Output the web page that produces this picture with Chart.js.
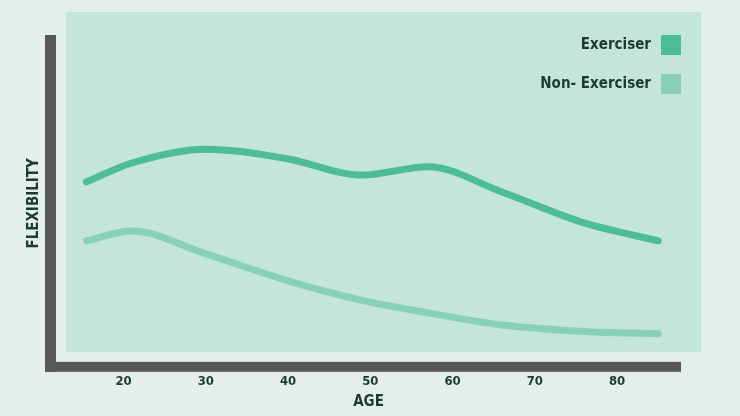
<!DOCTYPE html>
<html>
<head>
<meta charset="utf-8">
<script src="https://cdn.jsdelivr.net/npm/chart.js@4.4.1/dist/chart.umd.min.js"></script>
<style>
  html, body { margin: 0; padding: 0; background: #e2efea; }
  canvas { display: block; }
</style>
</head>
<body>
<canvas id="flexChart" width="740" height="416"></canvas>
<script>
// Values (flexibility on a 0-100 scale)
const ages = [15.5, 21, 30, 40, 49, 57, 66, 76, 85];
const exerciser = [56.4, 62.0, 66.1, 63.2, 58.4, 60.9, 53.4, 44.2, 38.9];
const nonExerciser = [38.9, 41.8, 35.0, 27.0, 21.2, 17.5, 13.9, 12.0, 11.3];
const ageTicks = [20, 30, 40, 50, 60, 70, 80];
const seriesNames = ["Exerciser", "Non- Exerciser"];
const seriesColors = ["#4dbd96", "#88d0b7"];

const FONT = "'DejaVu Sans Condensed', 'DejaVu Sans', sans-serif";
const TEXT = "#1e3b30";

const toPoints = (vals) => vals.map((v, i) => ({ x: ages[i], y: v }));

// Panel, axis bars and legend
const decor = {
  id: "decor",
  beforeDraw(chart) {
    const { ctx, chartArea: a } = chart;
    ctx.save();
    ctx.fillStyle = "#e2efea";
    ctx.fillRect(0, 0, chart.width, chart.height);
    ctx.fillStyle = "#c4e5d9";
    ctx.fillRect(a.left + 10, a.top - 23, a.right - a.left + 10, a.bottom - a.top + 3);
    ctx.fillStyle = "#575757";
    ctx.fillRect(a.left - 11, a.top, 11, a.bottom - a.top);
    ctx.fillRect(a.left - 11, a.bottom - 10, a.right - a.left + 11, 10);
    ctx.restore();
  },
  afterDatasetsDraw(chart) {
    const { ctx, chartArea: a } = chart;
    ctx.save();
    ctx.font = "bold 15px " + FONT;
    ctx.textAlign = "right";
    ctx.textBaseline = "middle";
    chart.data.datasets.forEach((ds, i) => {
      const top = a.top + i * 39;
      ctx.fillStyle = ds.borderColor;
      ctx.fillRect(a.right - 20, top, 20, 20);
      ctx.fillStyle = TEXT;
      ctx.fillText(ds.label, a.right - 30, top + 10);
    });
    ctx.restore();
  }
};

new Chart(document.getElementById("flexChart"), {
  type: "line",
  data: {
    datasets: [
      {
        label: seriesNames[0],
        data: toPoints(exerciser),
        borderColor: seriesColors[0],
        borderWidth: 7,
        borderCapStyle: "round",
        cubicInterpolationMode: "monotone",
        pointRadius: 0,
        clip: false,
      },
      {
        label: seriesNames[1],
        data: toPoints(nonExerciser),
        borderColor: seriesColors[1],
        borderWidth: 7,
        borderCapStyle: "round",
        cubicInterpolationMode: "monotone",
        pointRadius: 0,
        clip: false,
      },
    ],
  },
  options: {
    responsive: false,
    animation: false,
    layout: { padding: { left: 0, right: 59, top: 35, bottom: 0 } },
    plugins: {
      legend: { display: false },
      tooltip: { enabled: false },
    },
    scales: {
      x: {
        type: "linear",
        min: 11.78,
        max: 87.77,
        afterBuildTicks: (scale) => {
          scale.ticks = ageTicks.map((v) => ({ value: v }));
        },
        grid: { display: false, drawTicks: false },
        border: { display: false },
        ticks: {
          padding: 2,
          color: TEXT,
          font: { family: FONT, size: 13, weight: "bold" },
        },
        title: {
          display: true,
          text: "AGE",
          color: TEXT,
          padding: { top: 2, bottom: 4.6 },
          font: { family: FONT, size: 15, weight: "bold" },
        },
      },
      y: {
        min: 0,
        max: 100,
        grid: { display: false, drawTicks: false },
        border: { display: false },
        ticks: { display: false },
        title: {
          display: true,
          text: "FLEXIBILITY",
          color: TEXT,
          padding: { top: 25, bottom: 13 },
          font: { family: FONT, size: 15, weight: "bold" },
        },
      },
    },
  },
  plugins: [decor],
});
</script>
</body>
</html>
